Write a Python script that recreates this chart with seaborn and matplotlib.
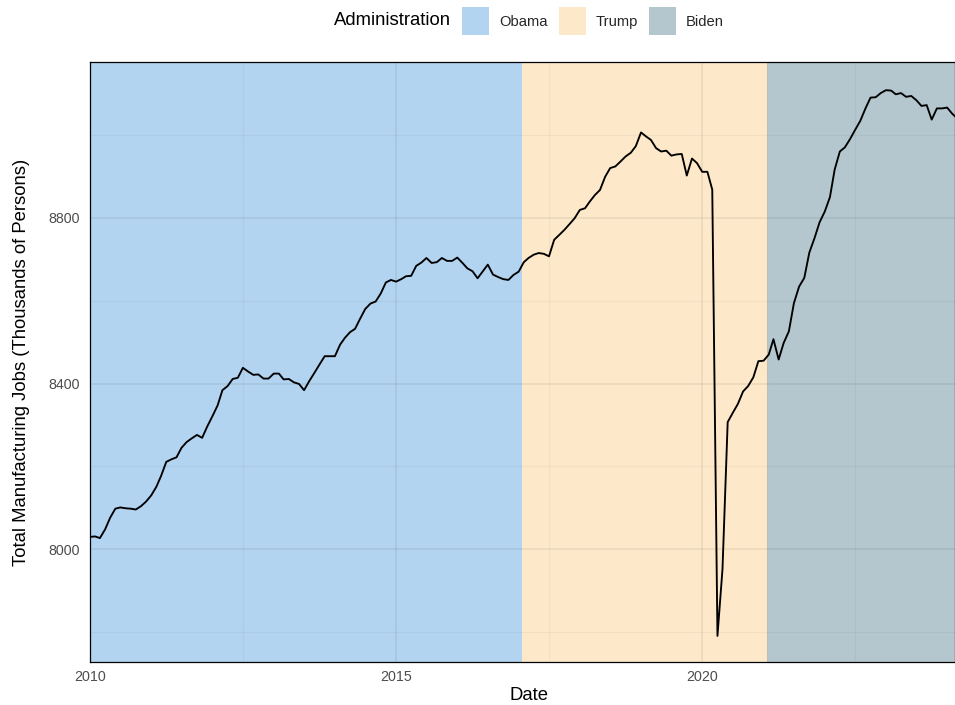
import matplotlib
matplotlib.use("Agg")
import matplotlib.pyplot as plt
from matplotlib.patches import Patch
import numpy as np
import pandas as pd
import seaborn as sns

# ---- data ----
start_month = "2010-01-01"
jobs = [
    # 2010
    8030, 8031, 8027, 8048, 8076, 8098, 8101, 8099, 8098, 8096, 8104, 8115,
    # 2011
    8130, 8151, 8177, 8211, 8217, 8222, 8245, 8259, 8268, 8276, 8269, 8296,
    # 2012
    8321, 8347, 8384, 8394, 8411, 8414, 8438, 8429, 8421, 8422, 8412, 8412,
    # 2013
    8424, 8424, 8410, 8411, 8403, 8399, 8384, 8406, 8426, 8446, 8466, 8466,
    # 2014
    8466, 8494, 8510, 8524, 8532, 8557, 8580, 8593, 8598, 8617, 8644, 8650,
    # 2015
    8646, 8652, 8659, 8660, 8684, 8692, 8703, 8691, 8693, 8703, 8696, 8696,
    # 2016
    8704, 8691, 8678, 8671, 8654, 8671, 8687, 8663, 8657, 8652, 8650, 8662,
    # 2017
    8670, 8693, 8703, 8711, 8715, 8713, 8707, 8747, 8759, 8771, 8785, 8799,
    # 2018
    8819, 8823, 8839, 8855, 8867, 8899, 8920, 8924, 8936, 8948, 8957, 8973,
    # 2019
    9006, 8996, 8988, 8968, 8960, 8962, 8950, 8953, 8954, 8902, 8943, 8932,
    # 2020
    8911, 8911, 8868, 7791, 7952, 8307, 8329, 8351, 8381, 8394, 8415, 8454,
    # 2021
    8455, 8470, 8507, 8458, 8498, 8526, 8594, 8634, 8655, 8716, 8751, 8789,
    # 2022
    8815, 8850, 8916, 8960, 8970, 8990, 9012, 9034, 9064, 9090, 9091, 9101,
    # 2023
    9108, 9107, 9098, 9101, 9092, 9094, 9084, 9070, 9072, 9037, 9064, 9064,
    # 2024
    9066, 9051, 9040,
]
admin_names = ["Obama", "Trump", "Biden"]
admin_starts = ["2009-01-20", "2017-01-20", "2021-01-20"]
admin_ends = ["2017-01-20", "2021-01-20", "2025-01-20"]
admin_colors = ["#b3d4f0", "#fde9c9", "#b4c7cf"]

x_ticks = ["2010-01-01", "2015-01-01", "2020-01-01"]
x_tick_labels = ["2010", "2015", "2020"]
x_minor = ["2012-07-02", "2017-07-02", "2022-07-02"]
y_ticks = [8000, 8400, 8800]
y_minor = [7800, 8200, 8600, 9000]

df = pd.DataFrame({
    "Date": pd.date_range(start_month, periods=len(jobs), freq="MS"),
    "Jobs": jobs,
})

# ---- style ----
sns.set_theme(style="white")
plt.rcParams["font.family"] = ["Liberation Sans", "DejaVu Sans"]

fig = plt.figure(figsize=(9.55, 7.05), dpi=100)
ax = fig.add_axes([90 / 955, 1 - 662 / 705, 1 - 90 / 955, 600 / 705])

for name, s, e, c in zip(admin_names, admin_starts, admin_ends, admin_colors):
    ax.axvspan(pd.Timestamp(s), pd.Timestamp(e), color=c, lw=0, zorder=0)

# gridlines drawn over the fills (darker tints)
for t in x_ticks:
    ax.axvline(pd.Timestamp(t), color="black", alpha=0.075, lw=1.1, zorder=1)
for t in x_minor:
    ax.axvline(pd.Timestamp(t), color="black", alpha=0.04, lw=0.8, zorder=1)
for t in y_ticks:
    ax.axhline(t, color="black", alpha=0.075, lw=1.1, zorder=1)
for t in y_minor:
    ax.axhline(t, color="black", alpha=0.04, lw=0.8, zorder=1)
# faint edge between Trump and Biden fills
ax.axvline(pd.Timestamp(admin_starts[2]), color="#c8b89a", alpha=0.6, lw=0.8, zorder=1)

sns.lineplot(data=df, x="Date", y="Jobs", color="black", lw=1.35, ax=ax, zorder=3)

ax.set_xlim(pd.Timestamp("2010-01-01"), pd.Timestamp("2024-02-17"))
ax.set_ylim(7728, 9176)

ax.set_xticks([pd.Timestamp(t) for t in x_ticks])
ax.set_xticklabels(x_tick_labels)
ax.set_yticks(y_ticks)
ax.set_yticklabels([str(v) for v in y_ticks])
ax.tick_params(axis="both", which="major", length=3.0, width=0.8, color="#333333",
               labelsize=10.3, labelcolor="#4d4d4d", direction="out")
ax.tick_params(axis="x", pad=3.0)
ax.tick_params(axis="y", pad=4.0)
ax.grid(False)

for sp in ax.spines.values():
    sp.set_color("black")
    sp.set_linewidth(0.9)
    sp.set_zorder(5)

ax.set_xlabel("Date", fontsize=13.3, color="black", va="center")
ax.set_ylabel("Total Manufacturing Jobs (Thousands of Persons)", fontsize=13.3,
              color="black", va="center")
ax.xaxis.set_label_coords((529 - 90) / 865, (662 - 696) / 600)
ax.yaxis.set_label_coords((22 - 90) / 865, (662 - 362) / 600)

# legend
handles = [Patch(facecolor=c, edgecolor="none", label=n) for n, c in zip(admin_names, admin_colors)]
fig.legend(handles=handles, loc="center", bbox_to_anchor=(593 / 955, 1 - 21 / 705),
           ncol=3, frameon=False, fontsize=10.6, handlelength=1.83, handleheight=2.45,
           handletextpad=0.68, columnspacing=0.75, borderpad=0, borderaxespad=0)
fig.text(451 / 955, 1 - 20.5 / 705, "Administration", fontsize=13.3, ha="right", va="center",
         color="black")

fig.savefig("out.png", dpi=100)
